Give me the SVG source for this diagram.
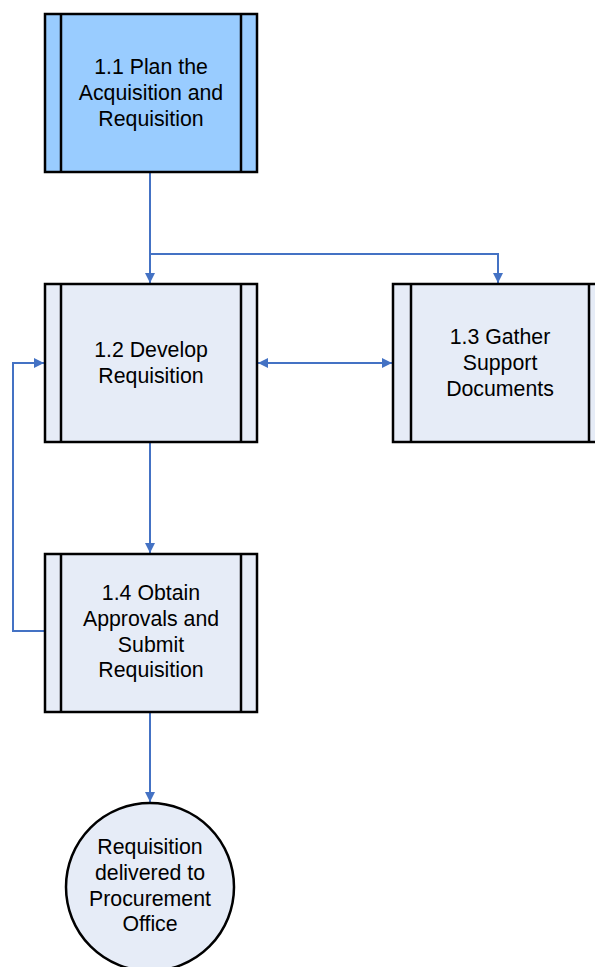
<svg xmlns="http://www.w3.org/2000/svg" width="595" height="967" viewBox="0 0 595 967">
<style>
.box{stroke:#000;stroke-width:2.5}
.l{stroke:#000;stroke-width:2.5}
.c{fill:none;stroke:#4472C4;stroke-width:2}
text{font-family:"Liberation Sans",Arial,sans-serif;font-size:21.3px;fill:#000;text-anchor:middle}
</style>
<defs>
<marker id="ah" viewBox="0 0 10 10" refX="10" refY="5" markerWidth="5" markerHeight="5" orient="auto-start-reverse" markerUnits="strokeWidth">
<path d="M0,0 L10,5 L0,10 z" fill="#4472C4"/>
</marker>
</defs>
<rect width="595" height="967" fill="#fff"/>
<g id="connectors">
<path class="c" d="M150,172 V283" marker-end="url(#ah)"/>
<path class="c" d="M150,254 H498 V283" marker-end="url(#ah)"/>
<path class="c" d="M258,363 H392" marker-start="url(#ah)" marker-end="url(#ah)"/>
<path class="c" d="M150,442 V553" marker-end="url(#ah)"/>
<path class="c" d="M45,631 H13 V363 H44" marker-end="url(#ah)"/>
<path class="c" d="M150,712 V802" marker-end="url(#ah)"/>
</g>
<g id="n11">
<rect class="box" x="45" y="14" width="212" height="158" fill="#99CCFF"/>
<line class="l" x1="61" y1="14" x2="61" y2="172"/>
<line class="l" x1="241" y1="14" x2="241" y2="172"/>
<text x="151" y="74">1.1 Plan the</text>
<text x="151" y="100">Acquisition and</text>
<text x="151" y="126">Requisition</text>
</g>
<g id="n12">
<rect class="box" x="45" y="284" width="212" height="158" fill="#E6ECF7"/>
<line class="l" x1="61" y1="284" x2="61" y2="442"/>
<line class="l" x1="241" y1="284" x2="241" y2="442"/>
<text x="151" y="357">1.2 Develop</text>
<text x="151" y="382.5">Requisition</text>
</g>
<g id="n13">
<rect class="box" x="393" y="284" width="213" height="158" fill="#E6ECF7"/>
<line class="l" x1="411" y1="284" x2="411" y2="442"/>
<line class="l" x1="589" y1="284" x2="589" y2="442"/>
<text x="500" y="344">1.3 Gather</text>
<text x="500" y="370">Support</text>
<text x="500" y="396">Documents</text>
</g>
<g id="n14">
<rect class="box" x="45" y="554" width="212" height="158" fill="#E6ECF7"/>
<line class="l" x1="61" y1="554" x2="61" y2="712"/>
<line class="l" x1="241" y1="554" x2="241" y2="712"/>
<text x="151" y="600">1.4 Obtain</text>
<text x="151" y="626">Approvals and</text>
<text x="151" y="651.5">Submit</text>
<text x="151" y="677">Requisition</text>
</g>
<g id="end">
<circle cx="150" cy="887" r="84" fill="#E6ECF7" stroke="#000" stroke-width="2.5"/>
<text x="150" y="854">Requisition</text>
<text x="150" y="879.5">delivered to</text>
<text x="150" y="905.5">Procurement</text>
<text x="150" y="931">Office</text>
</g>
</svg>
